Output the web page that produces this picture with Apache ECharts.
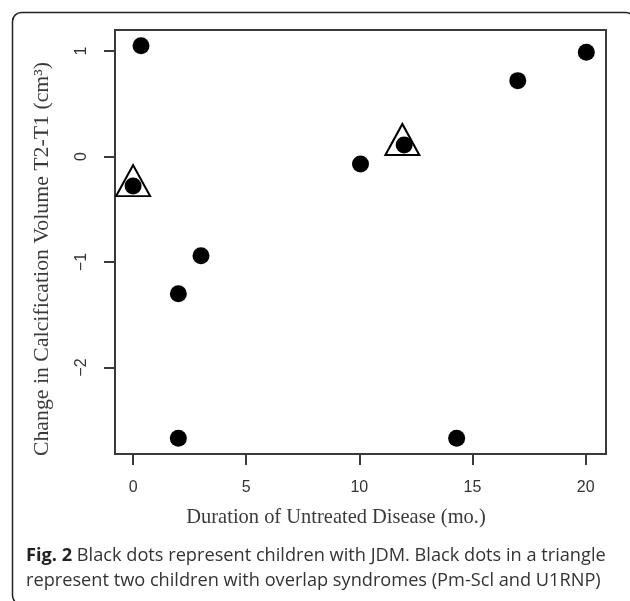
<!DOCTYPE html>
<html>
<head>
<meta charset="utf-8">
<script src="https://cdn.jsdelivr.net/npm/echarts@6/dist/echarts.min.js"></script>
<style>
html,body{margin:0;padding:0;background:#fff;}
#c{width:630px;height:601px;}
</style>
</head>
<body>
<div id="c"></div>
<script>
// Data
var jdmPoints = [
  [0.35, 1.05], [0, -0.28], [2, -1.30], [3, -0.94], [10.05, -0.07],
  [11.98, 0.11], [17, 0.72], [20.03, 0.99], [2, -2.67], [14.3, -2.67]
];
var overlapPoints = [[0, -0.28], [11.9, 0.11]];
var xTicks = [0, 5, 10, 15, 20];
var yTicks = [-2, -1, 0, 1];
var xTitle = 'Duration of Untreated Disease (mo.)';
var yTitle = 'Change in Calcification Volume T2-T1 (cm³)';
var captionBold = 'Fig. 2';
var captionLine1 = ' Black dots represent children with JDM. Black dots in a triangle';
var captionLine2 = 'represent two children with overlap syndromes (Pm-Scl and U1RNP)';

var chart = echarts.init(document.getElementById('c'), null, {renderer: 'canvas'});
var serif = '"Liberation Serif", "Times New Roman", serif';
var sans = '"Liberation Sans", Arial, sans-serif';
function minusFmt(v) { return String(v).replace('-', '\u2212'); }
chart.setOption({
  animation: false,
  backgroundColor: '#fff',
  grid: {left: 115, right: 24, top: 30, bottom: 147, show: true, borderColor: '#3a3a3a', borderWidth: 2, backgroundColor: 'transparent'},
  xAxis: {
    type: 'value', min: -0.8, max: 20.9, position: 'bottom',
    axisLine: {show: false, onZero: false},
    splitLine: {show: false},
    axisTick: {show: true, customValues: xTicks, length: 11, lineStyle: {color: '#3a3a3a', width: 2}},
    axisLabel: {customValues: xTicks, margin: 26, fontFamily: sans, fontSize: 16, color: '#333', formatter: minusFmt}
  },
  yAxis: {
    type: 'value', min: -2.82, max: 1.2, position: 'left',
    axisLine: {show: false, onZero: false},
    splitLine: {show: false},
    axisTick: {show: true, customValues: yTicks, length: 11, lineStyle: {color: '#3a3a3a', width: 2}},
    axisLabel: {customValues: yTicks, rotate: 90, margin: 25, fontFamily: sans, fontSize: 16, color: '#333', formatter: minusFmt}
  },
  title: {
    left: 21, top: 538,
    text: '{b|' + captionBold + '}{n|' + captionLine1 + '}\n{n|' + captionLine2 + '}',
    textStyle: {
      fontWeight: 'normal',
      rich: {
        b: {fontFamily: '"Open Sans", sans-serif', fontWeight: 'bold', fontSize: 18.2, color: '#222', lineHeight: 25},
        n: {fontFamily: '"Open Sans", sans-serif', fontWeight: 'normal', fontSize: 18.2, color: '#333', lineHeight: 25}
      }
    }
  },
  graphic: [
    {
      type: 'rect', left: 10, top: 10, z: -1,
      shape: {width: 622, height: 592, r: 9},
      style: {fill: 'none', stroke: '#222', lineWidth: 1.5}
    },
    {
      type: 'text', x: 336, y: 517.5, scaleX: 0.93,
      style: {text: xTitle, font: '22px ' + serif, fill: '#3a3a3a', textAlign: 'center', textVerticalAlign: 'middle'}
    },
    {
      type: 'text', x: 42, y: 259, rotation: Math.PI / 2,
      style: {text: yTitle, font: '21.8px ' + serif, fill: '#3a3a3a', textAlign: 'center', textVerticalAlign: 'middle'}
    }
  ],
  series: [
    {
      type: 'scatter', name: 'JDM', data: jdmPoints,
      symbol: 'circle', symbolSize: 17,
      itemStyle: {color: '#000', opacity: 1}
    },
    {
      type: 'scatter', name: 'Overlap', data: overlapPoints,
      symbol: 'triangle', symbolSize: [34, 31], symbolOffset: [0, -5.5],
      itemStyle: {color: 'transparent', borderColor: '#000', borderWidth: 2, opacity: 1},
      z: 3
    }
  ]
});
</script>
</body>
</html>
